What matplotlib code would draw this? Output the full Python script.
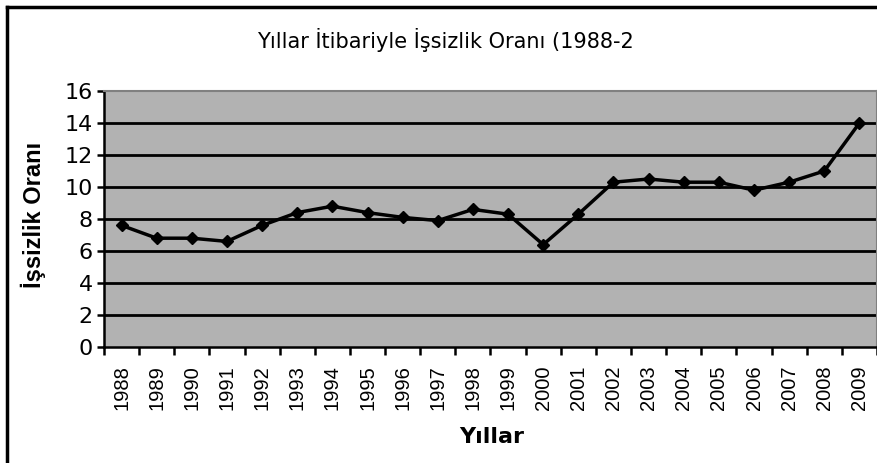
import numpy as np
import matplotlib
matplotlib.use('Agg')
import matplotlib.pyplot as plt
from matplotlib.ticker import FixedLocator, NullFormatter

years = ['1988', '1989', '1990', '1991', '1992', '1993', '1994', '1995',
         '1996', '1997', '1998', '1999', '2000', '2001', '2002', '2003',
         '2004', '2005', '2006', '2007', '2008', '2009']
rate = [7.6, 6.8, 6.8, 6.6, 7.6, 8.4, 8.8, 8.4, 8.1, 7.9, 8.6,
        8.3, 6.4, 8.3, 10.3, 10.5, 10.3, 10.3, 9.8, 10.3, 11.0, 14.0]
y_ticks = [0, 2, 4, 6, 8, 10, 12, 14, 16]

title = 'Yıllar İtibariyle İşsizlik Oranı (1988-2'
x_label = 'Yıllar'
y_label = 'İşsizlik Oranı'

plain = ['Liberation Sans', 'DejaVu Sans']

fig = plt.figure(figsize=(8.78, 4.63), dpi=100)
# outer frame of the chart (only left and top visible)
fig.add_artist(plt.Line2D([7/878, 7/878], [0, 1 - 7/463], color='black', lw=2.5))
fig.add_artist(plt.Line2D([7/878, 1], [1 - 7/463, 1 - 7/463], color='black', lw=2.5))

ax = fig.add_axes([104/878, 1 - 347/463, 773/878, (347 - 91)/463])
ax.set_facecolor('#b2b2b2')

x = np.arange(len(years))
for v in y_ticks[1:-1]:
    ax.axhline(v, color='black', lw=2, zorder=1)
ax.plot(x, rate, color='black', lw=2.5, marker='D', markersize=6, zorder=3)

ax.set_xlim(-0.5, len(years) - 0.5)
ax.set_ylim(0, 16)

ax.spines['left'].set_color('black')
ax.spines['left'].set_linewidth(1.8)
ax.spines['bottom'].set_color('black')
ax.spines['bottom'].set_linewidth(1.8)
ax.spines['top'].set_color('#808080')
ax.spines['right'].set_color('#808080')
ax.spines['top'].set_linewidth(1.5)
ax.spines['right'].set_linewidth(1.5)

ax.yaxis.set_major_locator(FixedLocator(y_ticks))
ax.set_yticklabels([str(v) for v in y_ticks], family='DejaVu Sans', fontsize=16)
ax.tick_params(axis='y', length=5, width=1.8, pad=3)

ax.xaxis.set_major_locator(FixedLocator(x))
ax.set_xticklabels(years, rotation=90, family=plain, fontsize=14.5)
ax.xaxis.set_minor_locator(FixedLocator(np.arange(len(years) + 1) - 0.5))
ax.xaxis.set_minor_formatter(NullFormatter())
ax.tick_params(axis='x', which='major', length=0, pad=13)
ax.tick_params(axis='x', which='minor', length=6, width=1.8)

fig.text(445/878, 1 - 40/463, title, ha='center', va='center',
         family='DejaVu Sans', fontsize=15)
fig.text(492/878, 1 - 437/463, x_label, ha='center', va='center',
         family='DejaVu Sans', fontsize=16, fontweight='bold')
fig.text(33/878, 1 - 215/463, y_label, ha='center', va='center',
         rotation=90, family=plain, fontsize=17, fontweight='bold')

plt.savefig('out.png', dpi=100)
